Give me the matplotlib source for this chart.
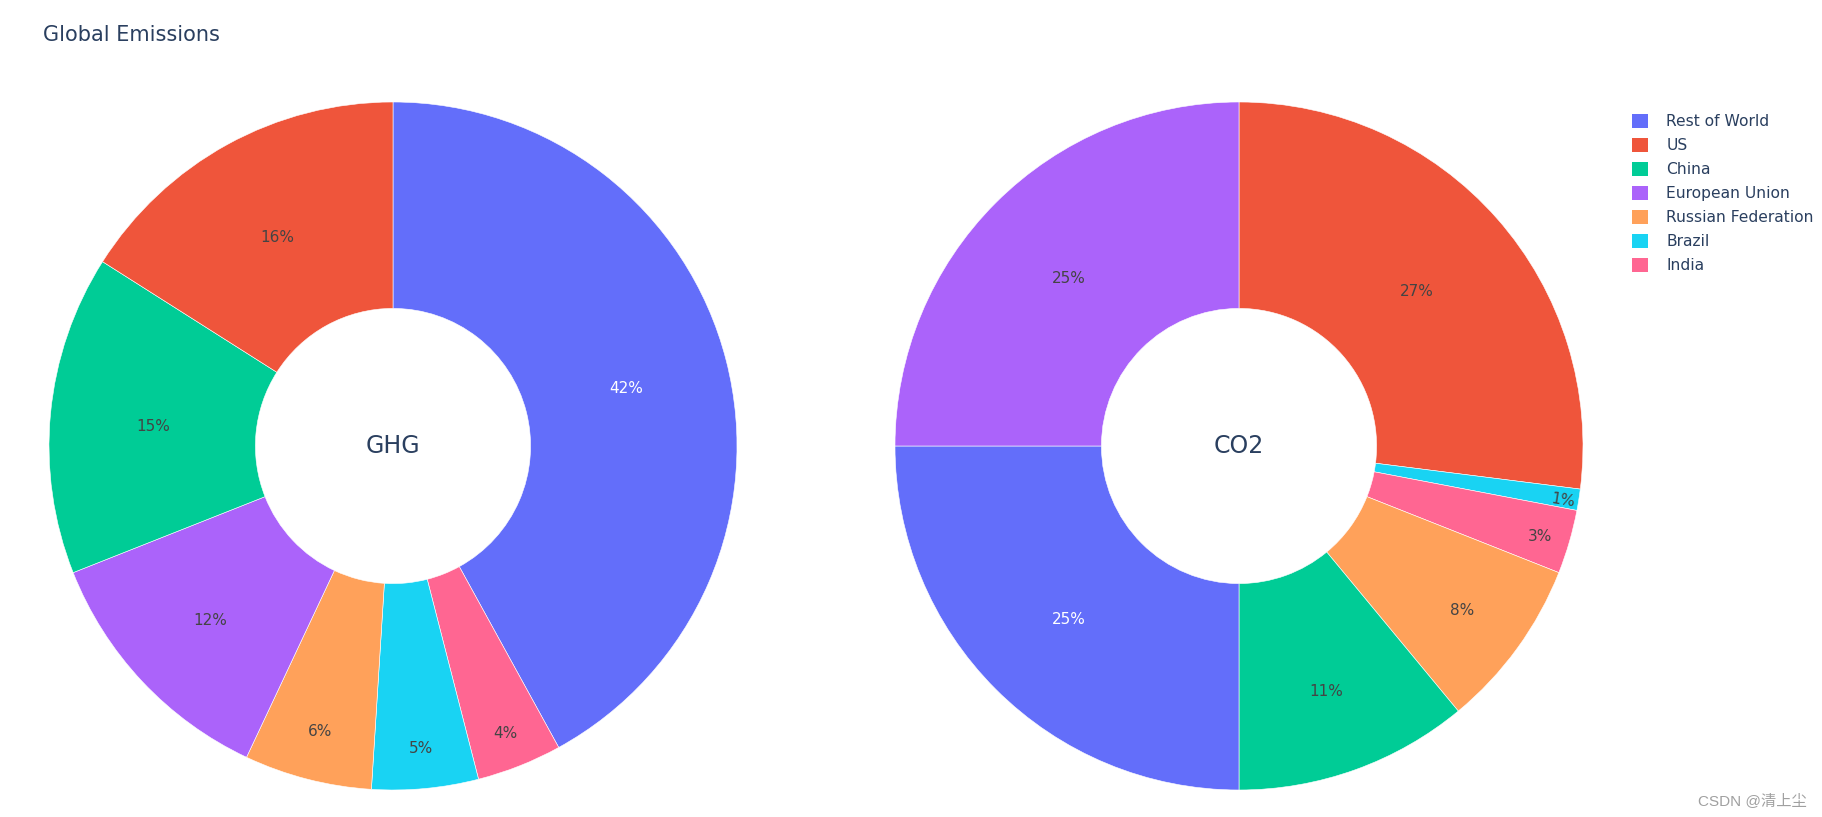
import numpy as np
import matplotlib
matplotlib.use("Agg")
import matplotlib.pyplot as plt
from matplotlib.patches import Patch

labels = ["US", "China", "European Union", "Russian Federation", "Brazil", "India", "Rest of World"]
ghg_values = [16, 15, 12, 6, 5, 4, 42]
co2_values = [27, 11, 25, 8, 1, 3, 25]

# plotly default colorway, assigned in legend order
legend_order = ["Rest of World", "US", "China", "European Union", "Russian Federation", "Brazil", "India"]
palette = ["#636EFA", "#EF553B", "#00CC96", "#AB63FA", "#FFA15A", "#19D3F3", "#FF6692"]
colors = dict(zip(legend_order, palette))

# radial position of each percentage label (fraction of outer radius)
ghg_text_r = {"Rest of World": 0.70, "US": 0.70, "China": 0.70, "European Union": 0.73,
              "Russian Federation": 0.85, "Brazil": 0.875, "India": 0.89}
co2_text_r = {"US": 0.69, "European Union": 0.70, "Rest of World": 0.70, "China": 0.75,
              "Russian Federation": 0.80, "India": 0.91, "Brazil": 0.955}

W, H = 1822, 817
TXT = "#2a3f5f"
fig = plt.figure(figsize=(W / 100, H / 100), dpi=100)


def donut(cx, cy, R, values, text_r, name):
    ax = fig.add_axes([(cx - R) / W, (H - cy - R) / H, 2 * R / W, 2 * R / H])
    # plotly: sorted descending, largest slice first clockwise from 12 o'clock,
    # remaining slices laid counterclockwise from 12
    order = sorted(range(len(values)), key=lambda i: -values[i])
    seq = [order[0]] + order[1:][::-1]
    vals = [values[i] for i in seq]
    labs = [labels[i] for i in seq]
    ax.pie(vals, colors=[colors[l] for l in labs], startangle=90, counterclock=False,
           radius=1, wedgeprops=dict(width=0.6, edgecolor="white", linewidth=0.4))
    total = float(sum(vals))
    start = 90.0
    for v, l in zip(vals, labs):
        sweep = 360 * v / total
        mid = np.deg2rad(start - sweep / 2)
        r = text_r[l]
        rot = 0
        if v / total < 0.02:
            rot = np.rad2deg(mid)
        ax.text(r * np.cos(mid), r * np.sin(mid) - 0.008, f"{v / total * 100:.0f}%",
                ha="center", va="center", fontsize=11, rotation=rot,
                color="white" if l == "Rest of World" else "#444444")
        start -= sweep
    ax.text(0, 0, name, ha="center", va="center", fontsize=17, color=TXT)
    ax.set_xlim(-1, 1)
    ax.set_ylim(-1, 1)
    ax.set_aspect("equal")
    ax.axis("off")


donut(393, 446, 344, ghg_values, ghg_text_r, "GHG")
donut(1239, 446, 344, co2_values, co2_text_r, "CO2")

fig.text(43 / W, 1 - 35 / H, "Global Emissions", fontsize=15, color=TXT, va="center", ha="left")

handles = [Patch(facecolor=colors[l], edgecolor="none") for l in legend_order]
fig.legend(handles, legend_order, loc="upper left", bbox_to_anchor=(1632 / W, 1 - 114 / H),
           frameon=False, fontsize=11.2, labelcolor=TXT, handlelength=1.0, handleheight=1.0,
           handletextpad=1.2, labelspacing=0.56, borderaxespad=0, borderpad=0)

fig.text(1807 / W, 1 - 801 / H, "CSDN @清上尘", fontsize=11, color="#a0a0a0", ha="right", va="center",
         family=["Liberation Sans", "Noto Sans CJK SC"])

fig.savefig("out.png", dpi=100, facecolor="white")
